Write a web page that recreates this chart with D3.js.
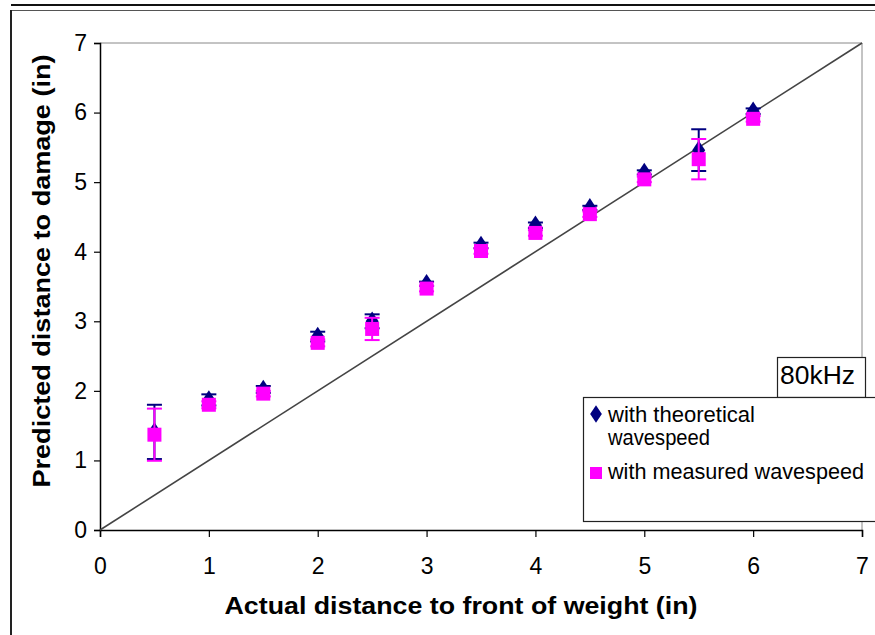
<!DOCTYPE html>
<html><head><meta charset="utf-8">
<script src="https://cdn.jsdelivr.net/npm/d3@7/dist/d3.min.js"></script>
<style>body{margin:0;background:#fff}svg{display:block}text{font-family:"Liberation Sans",Arial,sans-serif}</style>
</head><body>
<script>
const xValues = [0.5,1,1.5,2,2.5,3,3.5,4,4.5,5,5.5,6];
const theoretical = [1.41,1.87,2.02,2.78,3.0,3.54,4.09,4.38,4.63,5.14,5.46,6.02];
const theoreticalErr = [0.39,0.08,0.05,0.07,0.1,0.03,0.04,0.04,0.03,0.03,0.30,0.04];
const measured = [1.37,1.80,1.96,2.69,2.89,3.47,4.01,4.27,4.54,5.04,5.33,5.91];
const measuredErr = [0.375,0.05,0.04,0.05,0.16,0.04,0.04,0.04,0.04,0.04,0.29,0.04];
const ticks = [0,1,2,3,4,5,6,7];
const seriesNames = ["with theoretical", "wavespeed", "with measured wavespeed"];
const xTitle = "Actual distance to front of weight (in)";
const yTitle = "Predicted distance to damage (in)";
const boxLabel = "80kHz";

const W = 875, H = 635;
const svg = d3.select("body").append("svg").attr("width", W).attr("height", H);

// outer frame
svg.append("line").attr("x1",11).attr("x2",W).attr("y1",5).attr("y2",5).attr("stroke","#111").attr("stroke-width",2);
svg.append("line").attr("x1",10).attr("x2",W).attr("y1",10.5).attr("y2",10.5).attr("stroke","#555").attr("stroke-width",1);
svg.append("line").attr("x1",11).attr("x2",11).attr("y1",10).attr("y2",H).attr("stroke","#222").attr("stroke-width",2);

const x = d3.scaleLinear().domain([0,7]).range([100,862]);
const y = d3.scaleLinear().domain([0,7]).range([530,43]);

// plot border top/right
svg.append("line").attr("x1",x(0)).attr("x2",x(7)).attr("y1",y(7)).attr("y2",y(7)).attr("stroke","#888");
svg.append("line").attr("x1",x(7)).attr("x2",x(7)).attr("y1",y(7)).attr("y2",y(0)).attr("stroke","#888");

// axes
const xAxis = svg.append("g").attr("transform",`translate(0,${y(0)})`)
  .call(d3.axisBottom(x).tickValues(ticks).tickSize(7).tickPadding(21).tickFormat(d3.format("d")));
const yAxis = svg.append("g").attr("transform",`translate(${x(0)},0)`)
  .call(d3.axisLeft(y).tickValues(ticks).tickSize(6).tickPadding(7).tickFormat(d3.format("d")));
[xAxis,yAxis].forEach(a=>{
  a.select(".domain").attr("stroke","#000").attr("stroke-width",1.5);
  a.selectAll(".tick line").attr("stroke","#000").attr("stroke-width",1.2);
  a.selectAll("text").attr("font-size",23).attr("fill","#000").style("font-family",'"Liberation Sans",Arial,sans-serif');
});

// diagonal
svg.append("line").attr("x1",x(0)).attr("y1",y(0)).attr("x2",x(7)).attr("y2",y(7)).attr("stroke","#444").attr("stroke-width",1.6);

function errorBars(vals, errs, color){
  const g = svg.append("g").attr("stroke",color).attr("stroke-width",2);
  xValues.forEach((xv,i)=>{
    const cx = x(xv), top = y(vals[i]+errs[i]), bot = y(vals[i]-errs[i]);
    g.append("line").attr("x1",cx).attr("x2",cx).attr("y1",top).attr("y2",bot);
    g.append("line").attr("x1",cx-7.5).attr("x2",cx+7.5).attr("y1",top).attr("y2",top);
    g.append("line").attr("x1",cx-7.5).attr("x2",cx+7.5).attr("y1",bot).attr("y2",bot);
  });
}
errorBars(theoretical, theoreticalErr, "#000080");
const diamond = d3.symbol().type(d3.symbolDiamond).size(110);
svg.append("g").selectAll("path").data(xValues).join("path")
  .attr("d", diamond).attr("fill","#000080")
  .attr("transform",(d,i)=>`translate(${x(d)},${y(theoretical[i])}) scale(1.15,1)`);
errorBars(measured, measuredErr, "#ff00ff");
svg.append("g").selectAll("rect").data(xValues).join("rect")
  .attr("x",d=>x(d)-7).attr("y",(d,i)=>y(measured[i])-7).attr("width",14).attr("height",14).attr("fill","#ff00ff");

// 80kHz box
svg.append("rect").attr("x",777.5).attr("y",357.5).attr("width",88).attr("height",40).attr("fill","#fff").attr("stroke","#222").attr("stroke-width",1.2);
svg.append("text").attr("x",780).attr("y",384).attr("font-size",26).attr("textLength",75).attr("lengthAdjust","spacingAndGlyphs").text(boxLabel);

// legend
svg.append("rect").attr("x",583.5).attr("y",397.5).attr("width",300).attr("height",124).attr("fill","#fff").attr("stroke","#222").attr("stroke-width",1.2);
svg.append("path").attr("d", d3.symbol().type(d3.symbolDiamond).size(90)).attr("fill","#000080").attr("transform","translate(596,414) scale(1.15,1)");
svg.append("rect").attr("x",590).attr("y",467).attr("width",12).attr("height",12).attr("fill","#ff00ff");
const lg = [[seriesNames[0],422,147],[seriesNames[1],445,102],[seriesNames[2],479,256]];
lg.forEach(([t,by,len])=>{
  svg.append("text").attr("x",608).attr("y",by).attr("font-size",22).attr("textLength",len).attr("lengthAdjust","spacingAndGlyphs").text(t);
});

// titles
svg.append("text").attr("x",461).attr("y",614).attr("text-anchor","middle").attr("font-size",23).attr("font-weight","bold")
  .attr("textLength",473).attr("lengthAdjust","spacingAndGlyphs").text(xTitle);
svg.append("text").attr("transform","translate(50,271) rotate(-90)").attr("text-anchor","middle").attr("font-size",23).attr("font-weight","bold")
  .attr("textLength",433).attr("lengthAdjust","spacingAndGlyphs").text(yTitle);
</script>
</body></html>
